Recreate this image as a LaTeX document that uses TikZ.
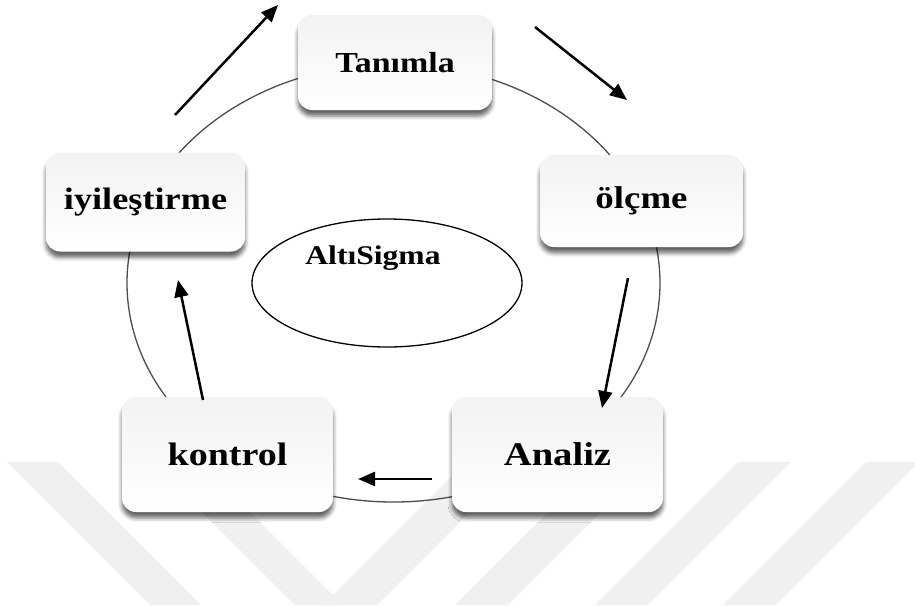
\documentclass[tikz,border=0pt]{standalone}
\usepackage{fontspec}
\usepackage{graphicx}
\setmainfont{Liberation Serif}
\usetikzlibrary{arrows.meta,shadows.blur,shapes.geometric}
\newcommand{\widetxt}[1]{\scalebox{1.17}[1]{#1}}
\tikzset{
  stage/.style={rectangle, rounded corners=14pt, inner sep=0pt,
    top color=gray!10, bottom color=white, draw=none,
    blur shadow={shadow xshift=0pt, shadow yshift=-6pt, shadow blur radius=4pt, shadow opacity=60}},
  ringline/.style={draw=black!70, line width=1.3pt},
  flowarrow/.style={line width=2.5pt, -{Triangle[length=17pt,width=14pt]}},
  wmband/.style={fill=black!6, draw=none},
  corering/.style={draw=black, line width=1.3pt, ellipse, inner sep=0pt}
}
\begin{document}
\begin{tikzpicture}[x=1pt,y=-1pt]
\useasboundingbox (0,0) rectangle (915,605);
% watermark
\begin{scope}
\clip (0,462) rectangle (915,605);
\fill[wmband] (7,462) -- (58,462) -- (201,605) -- (150,605) -- cycle;
\fill[wmband] (152,462) -- (200,462) -- (343,605) -- (295,605) -- cycle;
\fill[wmband] (466,462) -- (520,462) -- (377,605) -- (323,605) -- cycle;
\fill[wmband] (598,462) -- (651,462) -- (508,605) -- (455,605) -- cycle;
\fill[wmband] (738,462) -- (791,462) -- (648,605) -- (595,605) -- cycle;
\fill[wmband] (866,462) -- (919,462) -- (776,605) -- (723,605) -- cycle;
\end{scope}
% ring
\draw[ringline] (393.5,283) ellipse [x radius=266.5pt, y radius=219pt];
% centre
\node[corering, minimum width=270pt, minimum height=128pt] (core) at (387,283) {};
\node[font=\fontsize{27}{32}\selectfont\bfseries] (coretext) at (373,258) {\widetxt{AltıSigma}};
% stages
\node[stage, minimum width=194pt, minimum height=95pt, font=\fontsize{29}{34}\selectfont\bfseries] (tan) at (395,62.5) {\widetxt{Tanımla}};
\node[stage, minimum width=203pt, minimum height=92pt, font=\fontsize{31.5}{36}\selectfont\bfseries] (olc) at (641.5,201) {\widetxt{ölçme}};
\node[stage, minimum width=211pt, minimum height=115pt, font=\fontsize{33}{38}\selectfont\bfseries] (ana) at (557.5,454.5) {\widetxt{Analiz}};
\node[stage, minimum width=211pt, minimum height=115pt, font=\fontsize{32.5}{38}\selectfont\bfseries] (kon) at (227.5,454.5) {\widetxt{kontrol}};
\node[stage, minimum width=199pt, minimum height=99pt, font=\fontsize{31}{36}\selectfont\bfseries] (iyi) at (145.5,202) {\widetxt{iyileştirme}};
% arrows
\coordinate (a1s) at (175,115); \coordinate (a1e) at (278,5);
\coordinate (a2s) at (535,27);  \coordinate (a2e) at (627,100);
\coordinate (a3s) at (628,278); \coordinate (a3e) at (602,408);
\coordinate (a4s) at (432,479); \coordinate (a4e) at (358,479);
\coordinate (a5s) at (203,400); \coordinate (a5e) at (178,280);
\draw[flowarrow] (a1s) -- (a1e);
\draw[flowarrow] (a2s) -- (a2e);
\draw[flowarrow] (a3s) -- (a3e);
\draw[flowarrow] (a4s) -- (a4e);
\draw[flowarrow] (a5s) -- (a5e);
\end{tikzpicture}
\end{document}
